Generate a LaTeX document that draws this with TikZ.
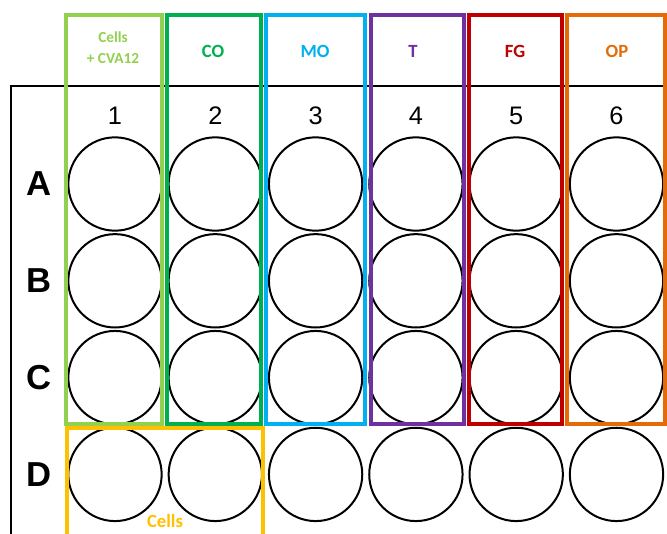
\documentclass[tikz,border=0pt]{standalone}
\usepackage{fontspec}
\setmainfont{Liberation Sans}
\newfontfamily\calibri{Carlito}
\definecolor{lgreen}{HTML}{92D050}
\definecolor{dgreen}{HTML}{00B050}
\definecolor{cyanb}{HTML}{00B0F0}
\definecolor{purp}{HTML}{7030A0}
\definecolor{redb}{HTML}{C00000}
\definecolor{orng}{HTML}{E36C09}
\definecolor{yell}{HTML}{FFC000}

\begin{document}
\begin{tikzpicture}[x=0.75pt,y=-0.75pt,well/.style={circle,draw,line width=1.5pt,minimum size=70pt,inner sep=0pt},group/.style={line width=3.2pt},tag/.style={font=\calibri\bfseries\fontsize{14}{17}\selectfont,inner sep=0pt}]
\useasboundingbox (0,0) rectangle (667,533);
\clip (0,0) rectangle (667,533);
% plate outline
\draw[line width=1.5pt] (11,545) |- (675,86);
% wells
\foreach \r [count=\j from 0] in {A,B,C,D}
  \foreach \c in {1,...,6}
    \node[well] (w\r\c) at ({115+100.3*(\c-1)},{184+96.8*\j}) {};
\foreach \c in {1,...,6}
  \node[font=\fontsize{19}{22}\selectfont,inner sep=0pt] (n\c) at ({115+100.3*(\c-1)},116) {\c};
\foreach \r [count=\j from 0] in {A,B,C,D}
  \node[font=\bfseries\fontsize{26}{30}\selectfont,inner sep=0pt] (r\r) at (39,{184+96.8*\j}) {\r};
% treatment groups
\draw[group,lgreen] (66,15) rectangle (162,424);
\draw[group,dgreen] (167,15) rectangle (261,424);
\draw[group,cyanb] (266,15) rectangle (365,424);
\draw[group,purp] (371,15) rectangle (464,424);
\draw[group,redb] (469,15) rectangle (562,424);
\draw[group,orng] (567,15) rectangle (665,424);
\draw[group,yell] (67,545) |- (263,428) -- (263,545);
\node[tag,lgreen,align=center,font=\calibri\bfseries\fontsize{11.5}{15.75}\selectfont] (gcells) at (113,47.5) {Cells\\+ CVA12};
\node[tag,dgreen] (gco) at (213,51) {CO};
\node[tag,cyanb] (gmo) at (315,51) {MO};
\node[tag,purp] (gt) at (413,51) {T};
\node[tag,redb] (gfg) at (515,51) {FG};
\node[tag,orng] (gop) at (617,51) {OP};
\node[tag,yell] (gctrl) at (165,521) {Cells};
\end{tikzpicture}
\end{document}
